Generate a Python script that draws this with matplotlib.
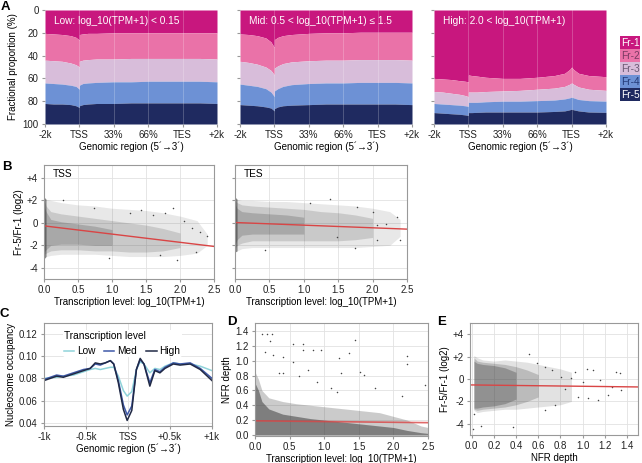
import numpy as np
import matplotlib
matplotlib.use('Agg')
import matplotlib.pyplot as plt

plt.rcParams['font.family'] = ['Liberation Sans', 'DejaVu Sans']
plt.rcParams['font.size'] = 7
plt.rcParams['axes.edgecolor'] = '#999999'
plt.rcParams['xtick.color'] = '#999999'
plt.rcParams['ytick.color'] = '#999999'
plt.rcParams['xtick.labelcolor'] = '#222222'
plt.rcParams['ytick.labelcolor'] = '#222222'
plt.rcParams['xtick.major.size'] = 2.5
plt.rcParams['ytick.major.size'] = 2.5
plt.rcParams['xtick.major.pad'] = 2
plt.rcParams['ytick.major.pad'] = 2
plt.rcParams['axes.labelpad'] = 2

# ---------------- data ----------------
# panel A: genomic region (0=-2k, 1=TSS, 2=33%, 3=66%, 4=TES, 5=+2k), cumulative % boundaries
region_x = [0, 0.25, 0.5, 0.75, 0.9, 1.0, 1.0, 1.1, 1.25, 1.5, 2.0, 2.5, 3.0, 3.5, 3.8, 3.95, 4.0, 4.05, 4.2, 4.5, 5.0]
region_ticks = ['-2k', 'TSS', '33%', '66%', 'TES', '+2k']
fractions = ['Fr-1', 'Fr-2', 'Fr-3', 'Fr-4', 'Fr-5']
frac_colors = ['#C8177E', '#EA72A8', '#D8BDDA', '#6D91D5', '#1F2A60']
frac_text = ['white', '#7a3a62', '#6a5872', '#243a78', 'white']

low_b1 = [20.5, 21, 21.5, 22.5, 24, 26.5, 21.5, 21, 20.5, 20.5, 20, 20, 20, 20, 20, 20, 20, 20, 20, 20, 20]
low_b2 = [44, 44.5, 45, 46.5, 48, 50, 45, 44, 43.5, 43, 43, 42.5, 42.5, 42.5, 42.5, 42.5, 42.5, 42.5, 42.5, 42.5, 43]
low_b3 = [64, 64.5, 65, 66, 67, 69.5, 66, 64.5, 64, 63.5, 63, 63, 62.5, 62.5, 62.5, 62.5, 62.5, 62.5, 62.5, 62.5, 63]
low_b4 = [82, 82.5, 82.5, 83, 84, 85.5, 84, 83, 82.5, 82, 82, 81.5, 81.5, 81.5, 81.5, 81.5, 81.5, 81.5, 81.5, 81.5, 82]

mid_b1 = [21, 21.5, 22.5, 24.5, 28, 33, 26, 24, 22.5, 21.5, 20.5, 20, 20, 19.5, 19.5, 19.5, 19.5, 19.5, 19.5, 19.5, 19.5]
mid_b2 = [45, 46, 47.5, 50, 53, 57, 51, 49, 47, 45.5, 44.5, 44, 44, 43.5, 43.5, 43.5, 43.5, 43.5, 43.5, 43.5, 44]
mid_b3 = [65, 66, 67, 69, 72, 76, 71, 69, 67, 65.5, 64.5, 64, 64, 63.5, 63.5, 63.5, 63.5, 63.5, 63.5, 63.5, 64]
mid_b4 = [83, 83.5, 84, 85, 86, 88.5, 86.5, 85, 84, 83.5, 83, 82.5, 82.5, 82.5, 82.5, 82.5, 82.5, 82.5, 82.5, 82.5, 83]

high_b1 = [60, 60.5, 61, 62, 62.5, 63, 57, 57.5, 58, 59, 60, 60, 59, 57.5, 55.5, 52, 50, 52, 55.5, 57.5, 58.5]
high_b2 = [71.5, 72, 73, 74, 75, 76, 72, 72, 72, 71.5, 71, 70.5, 69.5, 68.5, 67, 65, 64, 65, 67.5, 69.5, 70.5]
high_b3 = [82, 82.5, 83, 83.5, 84, 84.5, 81, 81, 81, 80.5, 80, 80, 79.5, 79, 78, 77, 76.5, 77, 78.5, 79.5, 80]
high_b4 = [90, 90.5, 91, 91.5, 92, 92.5, 90, 90, 89.8, 89.5, 89.5, 89.5, 89.5, 89, 88.5, 87.5, 87, 87.5, 88.5, 89.5, 89.8]

a_titles = ['Low: log_10(TPM+1) < 0.15', 'Mid: 0.5 < log_10(TPM+1) \u2264 1.5', 'High: 2.0 < log_10(TPM+1)']

# panel B: point cloud envelopes (sparse / medium / dense) and fitted line
b_x = [0.0, 0.03, 0.1, 0.25, 0.5, 0.75, 1.0, 1.25, 1.5, 1.75, 2.0, 2.25, 2.4]
tss_sparse_lo = [-3.2, -3.0, -2.9, -2.8, -2.8, -2.8, -2.9, -3.0, -3.0, -3.0, -2.9, -2.7, -2.0]
tss_sparse_hi = [2.3, 2.1, 2.0, 1.8, 1.6, 1.5, 1.3, 1.2, 1.1, 0.9, 0.6, 0.2, -1.0]
tss_med_lo = [-2.8, -2.7, -2.5, -2.4, -2.4, -2.5, -2.5, -2.6, -2.6, -2.5, -2.2]
tss_med_hi = [2.0, 1.5, 1.0, 0.8, 0.6, 0.4, 0.2, 0.0, -0.2, -0.5, -0.9]
tss_dense_lo = [-2.6, -2.4, -2.0, -1.9, -1.9, -2.0, -2.0]
tss_dense_hi = [1.5, 1.0, 0.3, 0.1, -0.1, -0.3, -0.6]
tss_out_x = [1.90, 1.78, 1.95, 0.96, 0.28, 2.29, 2.39, 2.18, 2.06, 2.24, 1.61, 1.42, 0.74, 1.26, 1.70]
tss_out_y = [1.3, 0.86, -3.3, -3.1, 2.0, -0.8, -1.2, -0.5, 0.2, -2.6, 0.7, 1.1, 1.3, 0.86, -2.9]
tss_fit = [-0.27, -2.1]

tes_sparse_lo = [-2.6, -2.5, -2.3, -2.2, -2.2, -2.2, -2.2, -2.2, -2.2, -2.2, -2.1, -2.0, -1.2]
tes_sparse_hi = [2.3, 2.1, 2.0, 2.0, 1.9, 1.9, 1.8, 1.7, 1.6, 1.5, 1.3, 1.0, 0.3]
tes_med_lo = [-2.3, -2.0, -1.8, -1.6, -1.6, -1.6, -1.6, -1.6, -1.6, -1.5, -1.3]
tes_med_hi = [2.0, 1.8, 1.6, 1.5, 1.4, 1.3, 1.2, 1.0, 0.9, 0.7, 0.4]
tes_dense_lo = [-2.0, -1.5, -1.1, -1.0, -1.0, -1.0, -1.0]
tes_dense_hi = [1.7, 1.3, 1.0, 0.9, 0.8, 0.7, 0.5]
tes_out_x = [1.38, 0.44, 1.75, 2.06, 2.40, 2.35, 2.20, 2.00, 1.77, 1.09, 1.48, 2.06]
tes_out_y = [2.1, -2.4, -2.2, -0.2, -1.5, 0.5, -0.06, 1.0, 1.4, 1.8, -1.3, -1.5]
tes_fit = [0.03, -0.56]

# panel C: nucleosome occupancy around TSS
c_x = [-1000, -850, -770, -650, -530, -450, -390, -330, -270, -210, -170, -115, -55, -10,
       45, 100, 145, 190, 260, 320, 380, 440, 540, 620, 740, 860, 1000]
occ_low = [0.080, 0.081, 0.082, 0.083, 0.086, 0.088, 0.089, 0.088, 0.089, 0.090, 0.090, 0.082, 0.069, 0.064,
           0.068, 0.088, 0.095, 0.093, 0.085, 0.089, 0.088, 0.091, 0.094, 0.093, 0.093, 0.091, 0.087]
occ_med = [0.079, 0.083, 0.082, 0.085, 0.088, 0.089, 0.093, 0.092, 0.094, 0.096, 0.093, 0.078, 0.056, 0.047,
           0.055, 0.088, 0.097, 0.093, 0.076, 0.088, 0.086, 0.090, 0.094, 0.093, 0.094, 0.089, 0.080]
occ_high = [0.078, 0.082, 0.081, 0.084, 0.087, 0.089, 0.094, 0.093, 0.094, 0.096, 0.093, 0.076, 0.052, 0.042,
            0.051, 0.088, 0.098, 0.093, 0.073, 0.087, 0.085, 0.089, 0.093, 0.092, 0.093, 0.088, 0.078]
occ_colors = ['#8FD3DA', '#3E58A8', '#202945']

# panel D: NFR depth vs transcription level
d_x = [0, 0.05, 0.1, 0.2, 0.4, 0.6, 0.8, 1.0, 1.2, 1.4, 1.6, 1.8, 2.0, 2.2, 2.4, 2.5]
d_dense_hi = [0.7, 0.6, 0.45, 0.35, 0.28, 0.25, 0.22, 0.2, 0.18, 0.16, 0.14, 0.12, 0.1, 0.06, 0.03, 0.02]
d_med_hi = [0.85, 0.75, 0.6, 0.5, 0.45, 0.42, 0.4, 0.38, 0.36, 0.34, 0.32, 0.3, 0.25, 0.2, 0.12, 0.1]
d_out_x = [0.10, 0.17, 0.24, 0.70, 0.70, 0.84, 0.96, 0.15, 0.41, 0.26, 0.55, 1.21, 1.36, 1.45, 2.2, 2.19,
           0.34, 0.41, 0.77, 0.64, 1.24, 1.52, 1.57, 2.46, 1.1, 1.19, 1.74, 0.89, 2.12, 0.22, 0.55]
d_out_y = [1.36, 1.36, 1.36, 1.23, 1.15, 1.15, 1.15, 1.12, 1.05, 1.08, 0.99, 1.04, 1.1, 1.28, 1.06, 0.96,
           0.83, 0.84, 0.87, 0.80, 0.83, 0.85, 0.81, 0.67, 0.63, 0.58, 0.63, 0.71, 0.52, 1.27, 1.23]
d_fit = [0.19, 0.165]

# panel E: Fr-5/Fr-1 vs NFR depth
e_x = [0.02, 0.05, 0.1, 0.2, 0.3, 0.4, 0.5, 0.6, 0.7, 0.8, 0.9]
e_sparse_lo = [-2.8, -3.0, -2.9, -2.8, -2.7, -2.7, -2.6, -2.5, -2.4, -2.3, -2.0]
e_sparse_hi = [2.1, 1.9, 1.7, 1.6, 1.7, 1.6, 1.5, 1.3, 1.1, 0.9, 0.6]
e_med_lo = [-2.7, -2.8, -2.7, -2.6, -2.5, -2.3, -2.0, -1.6]
e_med_hi = [1.9, 1.6, 1.5, 1.4, 1.3, 1.1, 0.8, 0.4]
e_dense_lo = [-2.6, -2.6, -2.5, -2.4, -2.2, -1.8]
e_dense_hi = [1.6, 1.4, 1.3, 1.2, 1.0, 0.6]
e_out_x = [0.52, 0.01, 0.08, 0.37, 0.02, 1.04, 1.09, 1.3, 1.34, 1.35, 1.23, 1.14, 1.05, 0.96, 0.9, 0.81,
           0.72, 0.93, 0.66, 0.75, 0.84, 1.0, 1.16, 1.27, 0.66, 0.59]
e_out_y = [2.2, -4.5, -4.2, -4.3, -3.1, 0.86, 0.8, 0.6, 0.5, -1.0, -1.4, -1.9, -1.7, -1.6, 0.1, 0.2,
           0.8, 0.6, -2.8, -2.3, -0.9, -0.3, -0.1, -0.7, 1.1, 1.4]
e_fit = [-0.53, -0.71]

# ---------------- figure ----------------
W, H = 642, 463
fig = plt.figure(figsize=(W / 100, H / 100), dpi=100)


def px_axes(x0, y0, x1, y1):
    return fig.add_axes([x0 / W, 1 - y1 / H, (x1 - x0) / W, (y1 - y0) / H])


def style_grid(ax):
    ax.grid(True, color='#e2e2e2', lw=0.6)
    ax.set_axisbelow(True)


def cloud(ax, x, lo, hi, alpha):
    n = len(lo)
    ax.fill_between(x[:n], lo, hi, color='#333333', alpha=alpha, lw=0)


red = '#D94545'
dot = '#444444'

# ----- A -----
a_sets = [(low_b1, low_b2, low_b3, low_b4), (mid_b1, mid_b2, mid_b3, mid_b4),
          (high_b1, high_b2, high_b3, high_b4)]
a_boxes = [(45, 10, 217, 124), (240, 10, 412, 124), (434, 10, 606, 124)]
for i, (bounds, box, title) in enumerate(zip(a_sets, a_boxes, a_titles)):
    ax = px_axes(*box)
    edges = [[0] * len(region_x)] + list(bounds) + [[100] * len(region_x)]
    for k in range(5):
        ax.fill_between(region_x, edges[k], edges[k + 1], color=frac_colors[k], lw=0)
    for t in range(1, 5):
        ax.axvline(t, color='white', alpha=0.25, lw=0.6)
    ax.set_xlim(0, 5)
    ax.set_ylim(100, 0)
    ax.set_xticks(range(6))
    ax.set_xticklabels(region_ticks)
    ax.set_yticks([0, 20, 40, 60, 80, 100])
    if i == 0:
        ax.set_ylabel('Fractional proportion (%)', labelpad=3)
    else:
        ax.set_yticklabels([])
    ax.set_xlabel('Genomic region (5\u00b4\u21923\u00b4)', labelpad=1)
    ax.text(0.05, 0.9, title, transform=ax.transAxes, color='white', fontsize=7.3, va='center')
    for s in ax.spines.values():
        s.set_visible(False)

# legend for A
for k, name in enumerate(fractions):
    y0 = 36 + k * 13
    lax = px_axes(620, y0, 640, y0 + 13)
    lax.set_facecolor(frac_colors[k])
    lax.set_xticks([])
    lax.set_yticks([])
    for s in lax.spines.values():
        s.set_visible(False)
    lax.text(0.5, 0.47, name, color=frac_text[k], ha='center', va='center', fontsize=7.3,
             transform=lax.transAxes)

# ----- B -----
b_sets = [('TSS', (44, 165, 214, 279), tss_sparse_lo, tss_sparse_hi, tss_med_lo, tss_med_hi,
           tss_dense_lo, tss_dense_hi, tss_out_x, tss_out_y, tss_fit),
          ('TES', (235, 165, 407, 279), tes_sparse_lo, tes_sparse_hi, tes_med_lo, tes_med_hi,
           tes_dense_lo, tes_dense_hi, tes_out_x, tes_out_y, tes_fit)]
for i, (name, box, slo, shi, mlo, mhi, dlo, dhi, ox, oy, fit) in enumerate(b_sets):
    ax = px_axes(*box)
    style_grid(ax)
    cloud(ax, b_x, slo, shi, 0.11)
    cloud(ax, b_x, mlo, mhi, 0.17)
    cloud(ax, b_x, dlo, dhi, 0.22)
    # dense column of points at zero expression
    ax.fill_between(b_x[:2], slo[:2], shi[:2], color='#222222', alpha=0.5, lw=0)
    ax.scatter(ox, oy, s=1.2, color=dot, lw=0)
    ax.plot([0, 2.5], fit, color=red, lw=1)
    ax.set_xlim(0, 2.5)
    ax.set_ylim(-5, 5.15)
    ax.set_xticks([0, 0.5, 1.0, 1.5, 2.0, 2.5])
    ax.set_xticklabels(['0.0', '0.5', '1.0', '1.5', '2.0', '2.5'])
    ax.set_yticks([-4, -2, 0, 2, 4])
    if i == 0:
        ax.set_yticklabels(['-4', '-2', '0', '+2', '+4'])
        ax.set_ylabel('Fr-5/Fr-1 (log2)')
    else:
        ax.set_yticklabels([])
    ax.set_xlabel('Transcription level: log_10(TPM+1)', labelpad=1)
    ax.text(0.05, 0.92, name, transform=ax.transAxes, va='center', fontsize=7.3)

# ----- C -----
ax = px_axes(44, 323, 212, 426)
style_grid(ax)
for ys, lab, col in zip([occ_low, occ_med, occ_high], ['Low', 'Med', 'High'], occ_colors):
    ax.plot(c_x, ys, color=col, lw=1.1, label=lab)
ax.set_xlim(-1000, 1000)
ax.set_ylim(0.037, 0.13)
ax.set_xticks([-1000, -500, 0, 500, 1000])
ax.set_xticklabels(['-1k', '-0.5k', 'TSS', '+0.5k', '+1k'])
ax.set_yticks([0.04, 0.06, 0.08, 0.10, 0.12])
ax.set_yticklabels(['0.04', '0.06', '0.08', '0.10', '0.12'])
ax.set_ylabel('Nucleosome occupancy')
ax.set_xlabel('Genomic region (5\u00b4\u21923\u00b4)', labelpad=1)
leg = ax.legend(ncol=3, loc='upper left', bbox_to_anchor=(0.08, 0.98), title='Transcription level',
                fontsize=7.3, title_fontsize=7.3, handlelength=1.0, handletextpad=0.3,
                columnspacing=0.9, borderpad=0.1, frameon=True, facecolor='white',
                edgecolor='none', framealpha=1)
leg._legend_box.align = 'left'

# ----- D -----
ax = px_axes(255, 323, 428, 436)
style_grid(ax)
ax.fill_between(d_x, 0, d_med_hi, color='#333333', alpha=0.25, lw=0)
ax.fill_between(d_x, 0, d_dense_hi, color='#333333', alpha=0.5, lw=0)
ax.scatter(d_out_x, d_out_y, s=1.2, color=dot, lw=0)
ax.plot([0, 2.5], d_fit, color=red, lw=1.2, alpha=0.8)
ax.set_xlim(0, 2.5)
ax.set_ylim(-0.015, 1.51)
ax.set_xticks([0, 0.5, 1.0, 1.5, 2.0, 2.5])
ax.set_xticklabels(['0.0', '0.5', '1.0', '1.5', '2.0', '2.5'])
ax.set_yticks([0, 0.2, 0.4, 0.6, 0.8, 1.0, 1.2, 1.4])
ax.set_yticklabels(['0.0', '0.2', '0.4', '0.6', '0.8', '1.0', '1.2', '1.4'])
ax.set_ylabel('NFR depth')
ax.set_xlabel('Transcription level: log_10(TPM+1)', labelpad=1)

# ----- E -----
ax = px_axes(470, 323, 638, 435)
style_grid(ax)
cloud(ax, e_x, e_sparse_lo, e_sparse_hi, 0.14)
cloud(ax, e_x, e_med_lo, e_med_hi, 0.22)
cloud(ax, e_x, e_dense_lo, e_dense_hi, 0.3)
ax.scatter(e_out_x, e_out_y, s=1.2, color=dot, lw=0)
ax.plot([0, 1.5], e_fit, color=red, lw=1)
ax.set_xlim(-0.015, 1.5)
ax.set_ylim(-5, 5)
ax.set_xticks([0, 0.2, 0.4, 0.6, 0.8, 1.0, 1.2, 1.4])
ax.set_xticklabels(['0.0', '0.2', '0.4', '0.6', '0.8', '1.0', '1.2', '1.4'])
ax.set_yticks([-4, -2, 0, 2, 4])
ax.set_yticklabels(['-4', '-2', '0', '+2', '+4'])
ax.set_ylabel('Fr-5/Fr-1 (log2)')
ax.set_xlabel('NFR depth', labelpad=1)

# panel letters
for lab, x, y in [('A', 1, 1), ('B', 2, 161), ('C', 0, 308), ('D', 227, 316), ('E', 437, 316)]:
    fig.text(x / W, 1 - y / H, lab, fontsize=9.5, fontweight='bold', va='top', ha='left')

fig.savefig('out.png', dpi=100)
